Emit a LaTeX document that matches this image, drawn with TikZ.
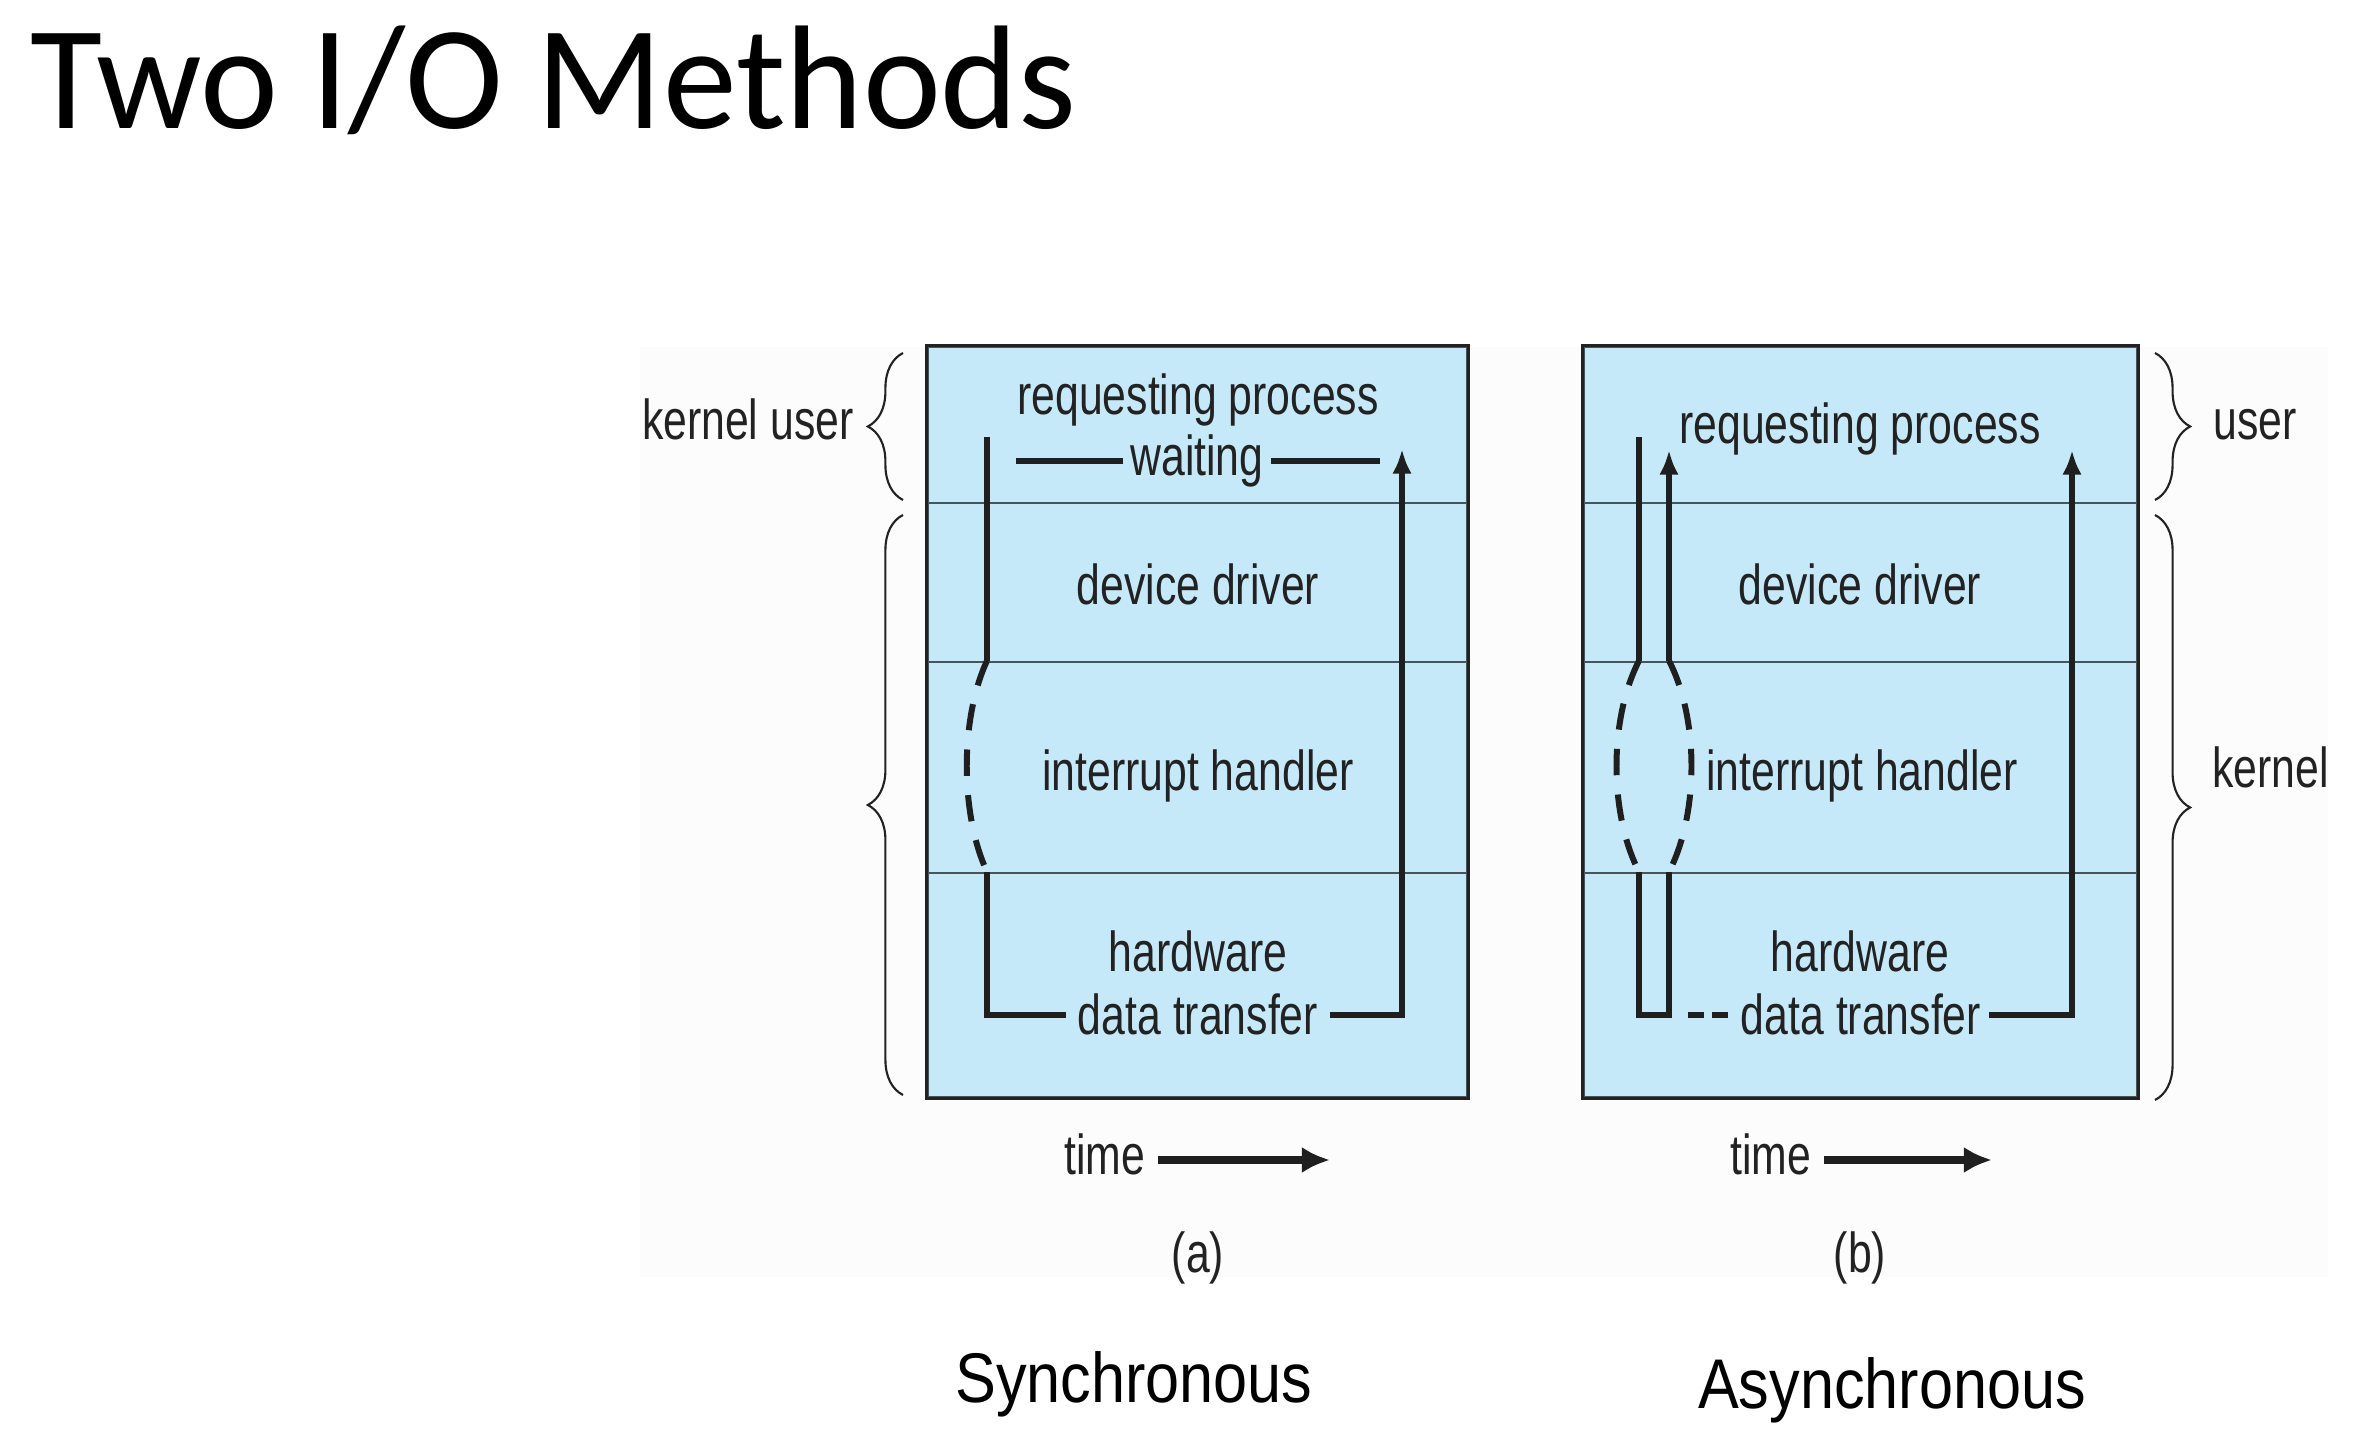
\documentclass[tikz,border=0pt]{standalone}
\usepackage{fontspec}
\setmainfont{Liberation Sans}
\newfontfamily\figfont[FakeStretch=0.76]{Liberation Sans}
\newfontfamily\capfont[FakeStretch=0.87]{Liberation Sans}
\newfontfamily\titlefont{Carlito}
\usetikzlibrary{arrows.meta,fit,decorations.pathreplacing}
\definecolor{layerblue}{RGB}{198,233,249}
\definecolor{inkgray}{RGB}{34,34,34}
\definecolor{sepgray}{RGB}{70,85,92}

\begin{document}
\begin{tikzpicture}[x=0.01cm, y=0.01cm,
   layer/.style={draw=sepgray,line width=0.7pt,fill=layerblue,inner sep=0pt},
   frame/.style={draw=inkgray,line width=0.9pt,inner sep=0pt},
   lbl/.style={font=\figfont\fontsize{16}{19}\selectfont,text=inkgray},
   proc/.style={draw=black!88,line width=1.7pt},
   broken/.style={dash pattern=on 7.5pt off 5.5pt},
   arrowed/.style={-{Latex[length=7pt,width=5.5pt]}},
   timearrow/.style={draw=black!88,line width=2pt,-{Latex[length=8pt,width=7.5pt]}},
   span/.style={decorate,decoration={brace,amplitude=10pt},draw=inkgray,line width=0.6pt},
   caption/.style={font=\capfont\fontsize{20}{24}\selectfont}
]
\useasboundingbox (0,0) rectangle (2377,-1443);
\fill[black!1] (640,-347) rectangle (2328,-1277);
\node[font=\titlefont\fontsize{42}{50}\selectfont,anchor=base west] (title) at (18,-129) {Two I/O Methods};

% the two stacks of layers
\foreach \Box/\L/\R in {a/928/1467,b/1584/2137}{
  \foreach \Row/\Top/\Bot in {1/347/503,2/503/662,3/662/873,4/873/1097}
    \node[layer,fit={(\L,-\Top) (\R,-\Bot)}] (\Box\Row) {};
  \node[frame,fit={(\Box1) (\Box4)}] (\Box) {};
}

% (a) synchronous
\node[lbl,anchor=base] (aReq) at (1198,-415) {requesting process};
\node[lbl,anchor=base,inner xsep=2pt] (aWait) at (1197,-476) {waiting};
\node[lbl,anchor=base] (aDrv) at (1198,-605) {device driver};
\node[lbl,anchor=base] (aInt) at (1198,-791) {interrupt handler};
\node[lbl,anchor=base] (aHw) at (1198,-972) {hardware};
\node[lbl,anchor=base] (aData) at (1198,-1035) {data transfer};
\coordinate (aStart) at (987,-437);
\coordinate (aTop) at (1402,-449);
\coordinate (aWaitL) at (1016,-461);
\coordinate (aWaitR) at (1380,-461);
\draw[proc] (aStart) -- (aStart |- a3.north);
\draw[proc,broken] (aStart |- a3.north) .. controls +(-27,-58) and +(-27,58) .. (aStart |- a4.north);
\draw[proc] (aStart |- a4.north) -- (aStart |- aData) -- (aData.west);
\draw[proc,arrowed] (aData.east) -| (aTop);
\draw[proc] (aWaitL) -- (aWaitL -| aWait.west);
\draw[proc] (aWait.east |- aWaitR) -- (aWaitR);

% (b) asynchronous
\node[lbl,anchor=base] (bReq) at (1860,-444) {requesting process};
\node[lbl,anchor=base] (bDrv) at (1860,-605) {device driver};
\node[lbl,anchor=base] (bInt) at (1862,-791) {interrupt handler};
\node[lbl,anchor=base] (bHw) at (1860,-972) {hardware};
\node[lbl,anchor=base,inner xsep=2pt] (bData) at (1861,-1035) {data transfer};
\coordinate (bL) at (1639,-437);
\coordinate (bR) at (1669,-450);
\coordinate (bTop) at (2072,-450);
\draw[proc] (bL) -- (bL |- b3.north);
\draw[proc,arrowed] (bR |- b3.north) -- (bR);
\draw[proc,broken] (bL |- b3.north) .. controls +(-30,-58) and +(-30,58) .. (bL |- b4.north);
\draw[proc,broken] (bR |- b3.north) .. controls +(30,-58) and +(30,58) .. (bR |- b4.north);
\draw[proc] (bL |- b4.north) -- (bL |- bData) -- (bR |- bData) -- (bR |- b4.north);
\draw[proc,dash pattern=on 0pt off 5.5pt on 4.5pt off 2.3pt on 4.5pt off 20pt] (bR |- bData) -- (bData.west);
\draw[proc,arrowed] (bData.east) -| (bTop);

% braces
\draw[span] (903,-500) -- (903,-353);
\draw[span] (903,-1095) -- (903,-515);
\draw[span] (2155,-353) -- (2155,-500);
\draw[span] (2155,-515) -- (2155,-1100);
\node[lbl,anchor=base east] (kuLbl) at (866,-440) {kernel user};
\node[lbl,anchor=base west] (uLbl) at (2201,-440) {user};
\node[lbl,anchor=base west] (kLbl) at (2200,-788) {kernel};

% time axes and captions
\node[lbl,anchor=base] (aTime) at (1105,-1175) {time};
\node[lbl,anchor=base] (bTime) at (1771,-1175) {time};
\coordinate (aTimeEnd) at (1330,-1160);
\coordinate (bTimeEnd) at (1992,-1160);
\draw[timearrow] (aTime.east |- aTimeEnd) -- (aTimeEnd);
\draw[timearrow] (bTime.east |- bTimeEnd) -- (bTimeEnd);
\node[lbl] (aTag) at (1198,-1258) {(a)};
\node[lbl] (bTag) at (1860,-1258) {(b)};
\node[caption] (sync) at (1134,-1384) {Synchronous};
\node[caption] (async) at (1892,-1390) {Asynchronous};
\end{tikzpicture}
\end{document}
